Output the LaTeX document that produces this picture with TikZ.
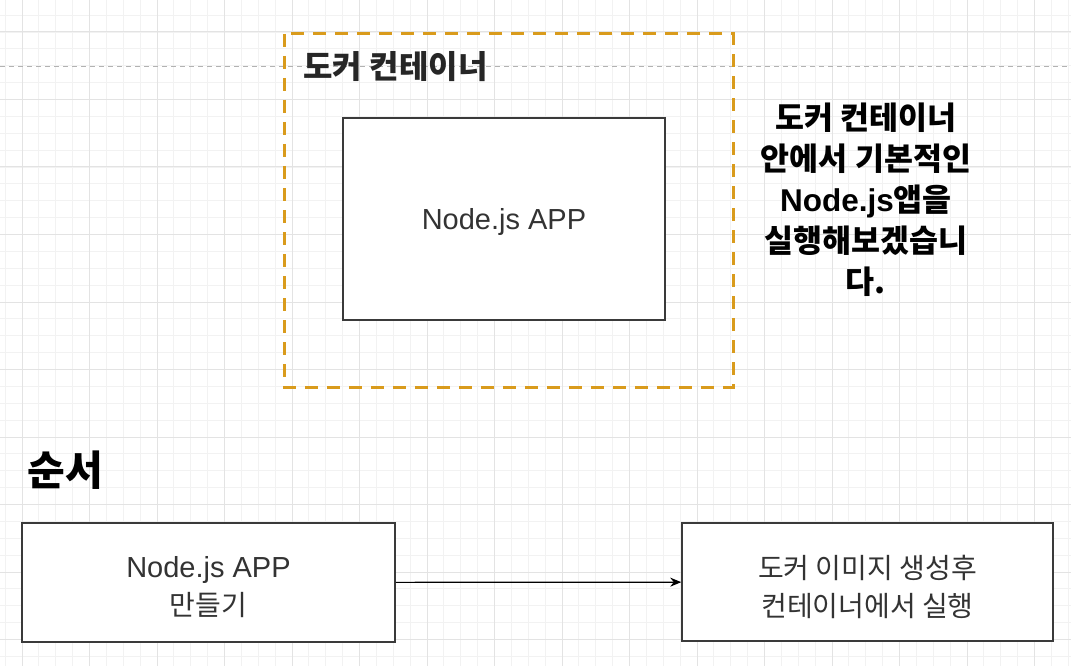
\documentclass[tikz,border=0pt]{standalone}
\usepackage{fontspec}
\setmainfont{Noto Sans CJK KR}
\newfontfamily\latfont{Liberation Sans}
\usetikzlibrary{arrows.meta}
\definecolor{gridminor}{HTML}{F2F2F2}
\definecolor{gridmajor}{HTML}{E3E3E3}
\definecolor{dockerorange}{HTML}{D99B1C}
\definecolor{boxline}{HTML}{3A3A3A}
\definecolor{boxtext}{HTML}{333333}
\tikzset{
  minorline/.style={draw=gridminor, line width=0.8pt},
  majorline/.style={draw=gridmajor, line width=1pt},
  appbox/.style={draw=boxline, fill=white, line width=1.5pt, inner sep=0pt},
  boxlabel/.style={inner sep=0pt, text=boxtext, align=center, font=\fontsize{28}{38}\selectfont},
  container/.style={draw=dockerorange, line width=3pt, dash pattern=on 13pt off 9pt},
  boldnote/.style={font=\fontsize{31.5}{41}\selectfont\bfseries, align=center, text=black},
  flowarrow/.style={draw=black, line width=1.2pt, -{Stealth[length=11pt,width=9pt]}}
}
\newcommand{\lat}[1]{{\latfont\fontsize{29}{38}\selectfont #1}}
\begin{document}
\begin{tikzpicture}[x=1pt,y=-1pt]
\useasboundingbox (0,0) rectangle (1071,666);
\fill[white] (0,0) rectangle (1071,666);
% grid
\foreach \i in {-1,...,62} {
  \pgfmathsetmacro{\xx}{22+16.875*\i}
  \draw[minorline] (\xx,0) -- (\xx,666);
}
\foreach \j in {-1,...,38} {
  \pgfmathsetmacro{\yy}{32+16.875*\j}
  \draw[minorline] (0,\yy) -- (1071,\yy);
}
\foreach \i in {0,...,15} {
  \pgfmathsetmacro{\xx}{22+67.5*\i}
  \draw[majorline] (\xx,0) -- (\xx,666);
}
\foreach \j in {0,...,9} {
  \pgfmathsetmacro{\yy}{32+67.5*\j}
  \draw[majorline] (0,\yy) -- (1071,\yy);
}
% dotted page line
\coordinate (dl) at (0,67);
\coordinate (dr) at (1071,67);
\draw[draw=black!30, line width=1pt, dash pattern=on 5pt off 4pt] (dl) -- (dr);
% container
\draw[container] (284,34) rectangle (733,387);
\node[anchor=west, font=\fontsize{32}{38}\selectfont\bfseries, text=black!85] (clabel) at (300,67) {도커 컨테이너};
\node[appbox, minimum width=322pt, minimum height=202pt] (app) at (504,219) {};
\node[boxlabel] (apptext) at ([yshift=-3pt]app.center) {\lat{Node.js APP}};
% note
\node[boldnote] (note) at (866,200) {도커 컨테이너\\안에서 기본적인\\{\latfont\bfseries Node.js}앱을\\실행해보겠습니\\다.};
% order
\node[anchor=west, font=\fontsize{41}{46}\selectfont\bfseries, text=black] (order) at (24,470) {순서};
\node[appbox, minimum width=373pt, minimum height=119pt] (step1) at (208.5,582.5) {};
\node[boxlabel] (step1text) at ([yshift=-5pt]step1.center) {\lat{Node.js APP}\\만들기};
\node[appbox, minimum width=371pt, minimum height=118pt] (step2) at (867.5,582) {};
\node[boxlabel] (step2text) at ([yshift=-5pt]step2.center) {도커 이미지 생성후\\컨테이너에서 실행};
\draw[flowarrow] (step1) -- (step2);
\end{tikzpicture}
\end{document}
